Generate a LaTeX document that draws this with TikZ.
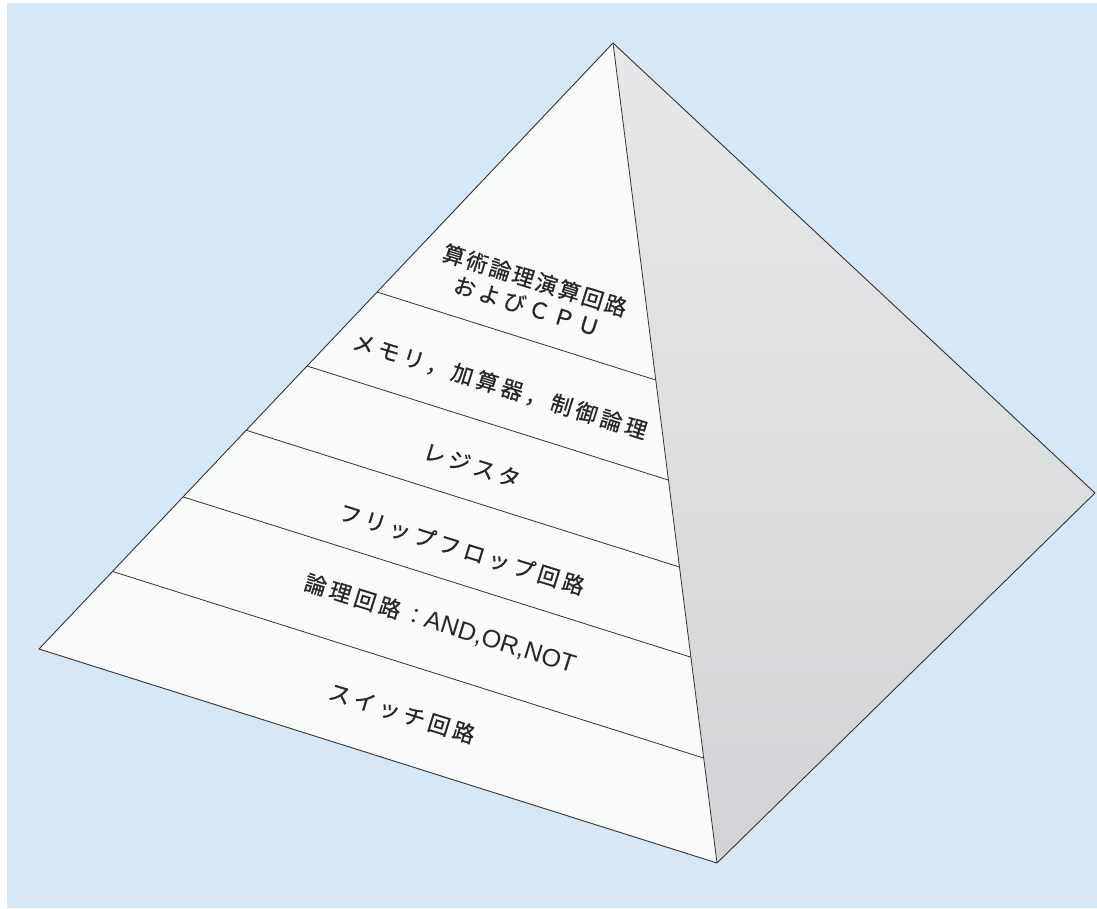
\documentclass[tikz,border=0pt]{standalone}
\usepackage{fontspec}
\newfontfamily\jp[LetterSpace=18,FakeBold=0.6]{Noto Sans CJK JP}
\newfontfamily\jpt[LetterSpace=10,FakeBold=0.6]{Noto Sans CJK JP}
\newfontfamily\lat{Liberation Sans}
\usetikzlibrary{calc}
\definecolor{bgblue}{HTML}{D6E7F5}
\definecolor{facewhite}{HTML}{F9FAFA}
\definecolor{sidetop}{HTML}{E6E9E9}
\definecolor{sidebot}{HTML}{CFD5D6}
\definecolor{edgecol}{HTML}{333333}
\begin{document}
\begin{tikzpicture}[x=1pt,y=-1pt,
  edge/.style={draw=edgecol,line width=0.9pt,line join=round},
  band/.style={draw=edgecol,line width=0.8pt},
  lbl/.style={font=\jp\fontsize{22}{27}\selectfont,text=black!85,rotate=-17.3,inner sep=0pt,align=center}]
\useasboundingbox (0,0) rectangle (1097,908);
\fill[white] (0,0) rectangle (1097,908);
\fill[bgblue] (7,3) rectangle (1097,908);
\coordinate (A) at (613,43);
\coordinate (L) at (39,649);
\coordinate (F) at (717,863);
\coordinate (R) at (1095,493);
% right face
\shade[top color=sidetop,bottom color=sidebot] (A) -- (R) -- (F) -- cycle;
% front face
\fill[facewhite] (A) -- (L) -- (F) -- cycle;
% band lines
\foreach \t/\n in {0.589/1,0.467/2,0.361/3,0.251/4,0.128/5}{
  \coordinate (b\n l) at ($(L)!\t!(A)$);
  \coordinate (b\n r) at ($(F)!\t!(A)$);
  \draw[band] (b\n l) -- (b\n r);
}
% outline
\draw[edge] (A) -- (L) -- (F) -- (R) -- cycle;
\draw[edge,line width=0.8pt] (A) -- (F);
% labels
\node[lbl] (t1) at (531,293) {{\jpt 算術論理演算回路}\\およびＣＰＵ};
\node[lbl] (t2) at (500,386) {メモリ，加算器，制御論理};
\node[lbl] (t3) at (472,465) {レジスタ};
\node[lbl] (t4) at (462,549) {フリップフロップ回路};
\node[lbl] (t5) at (440,624) {論理回路：{\lat\fontsize{25}{27}\selectfont AND,OR,NOT}};
\node[lbl] (t6) at (402,713) {スイッチ回路};
\end{tikzpicture}
\end{document}
